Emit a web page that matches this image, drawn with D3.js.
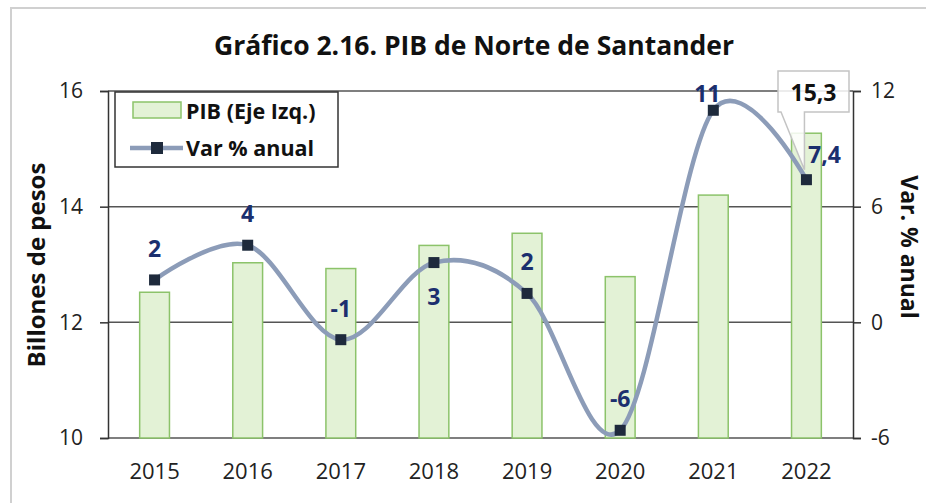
<!DOCTYPE html>
<html>
<head>
<meta charset="utf-8">
<script src="https://cdn.jsdelivr.net/npm/d3@7"></script>
<style>
  body { margin: 0; background: #fff; }
  svg { font-family: "Open Sans", sans-serif; }
</style>
</head>
<body>
<div id="chart"></div>
<script>
// datos
var years = ["2015", "2016", "2017", "2018", "2019", "2020", "2021", "2022"];
var pib = [12.52, 13.03, 12.93, 13.33, 13.54, 12.79, 14.2, 15.27];
var varAnual = [2.2, 4.0, -0.9, 3.1, 1.5, -5.6, 11.0, 7.4];
var varLabels = ["2", "4", "-1", "3", "2", "-6", "11", "7,4"];
var leftTicks = [10, 12, 14, 16];
var rightTicks = [-6, 0, 6, 12];

var width = 926, height = 503;
var m = { left: 108, right: 853, top: 91, bottom: 438 };

var svg = d3.select("#chart").append("svg")
    .attr("width", width).attr("height", height);

// marco exterior
svg.append("rect")
    .attr("x", 11).attr("y", 8)
    .attr("width", width).attr("height", height)
    .attr("fill", "none").attr("stroke", "#d0d0d0").attr("stroke-width", 2);

var x = d3.scaleBand().domain(years).range([m.left, m.right])
    .paddingInner(0.68).paddingOuter(0.34);
var yL = d3.scaleLinear().domain([10, 16]).range([m.bottom, m.top]);
var yR = d3.scaleLinear().domain([-6, 12]).range([m.bottom, m.top]);

// titulo
svg.append("text")
    .attr("x", 474).attr("y", 55)
    .attr("text-anchor", "middle")
    .attr("font-size", 26.5).attr("font-weight", "bold").attr("fill", "#111")
    .text("Gráfico 2.16. PIB de Norte de Santander");

// lineas de grilla
svg.append("g").selectAll("line")
  .data(leftTicks)
  .enter().append("line")
    .attr("x1", m.left).attr("x2", m.right)
    .attr("y1", d => yL(d)).attr("y2", d => yL(d))
    .attr("stroke", "#555").attr("stroke-width", 1.5);

// barras
svg.append("g").selectAll("rect")
  .data(years)
  .enter().append("rect")
    .attr("x", d => x(d))
    .attr("y", (d, i) => yL(pib[i]))
    .attr("width", x.bandwidth())
    .attr("height", (d, i) => yL(10) - yL(pib[i]))
    .attr("fill", "#e3f2d6").attr("stroke", "#8cc36a").attr("stroke-width", 1.5);

// ejes
var fmt = d => String(d);
var axL = svg.append("g").attr("transform", "translate(" + m.left + ",0)")
    .call(d3.axisLeft(yL).tickValues(leftTicks).tickFormat(fmt).tickSize(8).tickPadding(17));
var axR = svg.append("g").attr("transform", "translate(" + m.right + ",0)")
    .call(d3.axisRight(yR).tickValues(rightTicks).tickFormat(fmt).tickSize(8).tickPadding(10));
[axL, axR].forEach(function(a) {
  a.select(".domain").attr("stroke", "#333").attr("stroke-width", 1.5);
  a.selectAll(".tick line").attr("stroke", "#333").attr("stroke-width", 1.5);
  a.selectAll(".tick text").attr("font-size", 21).attr("fill", "#222")
    .attr("font-family", "'Open Sans', sans-serif");
});

// etiquetas del eje x
svg.append("g").selectAll("text")
  .data(years)
  .enter().append("text")
    .attr("x", d => x(d) + x.bandwidth() / 2)
    .attr("y", 479)
    .attr("text-anchor", "middle")
    .attr("font-size", 22).attr("fill", "#222")
    .text(d => d);

// titulos de ejes
svg.append("text")
    .attr("transform", "translate(45,265) rotate(-90)")
    .attr("text-anchor", "middle")
    .attr("font-size", 24).attr("font-weight", "bold").attr("fill", "#111")
    .text("Billones de pesos");
svg.append("text")
    .attr("transform", "translate(901,247) rotate(90)")
    .attr("text-anchor", "middle")
    .attr("font-size", 23).attr("font-weight", "bold").attr("fill", "#111")
    .text("Var. % anual");

// linea suavizada
var cx = (d, i) => x(years[i]) + x.bandwidth() / 2;
var line = d3.line()
    .x(cx)
    .y(d => yR(d))
    .curve(d3.curveCardinal.tension(0));

svg.append("path")
    .datum(varAnual)
    .attr("d", line)
    .attr("fill", "none").attr("stroke", "#8c9cb8").attr("stroke-width", 4.5);

svg.append("g").selectAll("rect")
  .data(varAnual)
  .enter().append("rect")
    .attr("x", (d, i) => cx(d, i) - 5.5)
    .attr("y", d => yR(d) - 5.5)
    .attr("width", 11).attr("height", 11)
    .attr("fill", "#1e2a3c");

// etiquetas de la variacion
var place = ["up", "up", "up", "down", "up", "up", "close", "right"];
svg.append("g").selectAll("text")
  .data(varAnual)
  .enter().append("text")
    .attr("x", function(d, i) {
      if (place[i] == "right") return cx(d, i) + 18;
      if (place[i] == "close") return cx(d, i) - 6;
      return cx(d, i);
    })
    .attr("y", function(d, i) {
      if (place[i] == "down") return yR(d) + 42;
      if (place[i] == "close") return yR(d) - 8;
      if (place[i] == "right") return yR(d) - 17;
      return yR(d) - 23;
    })
    .attr("text-anchor", "middle")
    .attr("font-size", 23).attr("font-weight", "bold").attr("fill", "#1b2f6e")
    .text((d, i) => varLabels[i]);

// recuadro del ultimo valor
var lastX = cx(0, 7);
var bx = 778, by = 71, bw = 71, bh = 41;
svg.append("path")
    .attr("d", "M" + bx + "," + by + " h" + bw + " v" + bh + " H" + (lastX - 2) +
      " L" + (lastX - 2) + "," + (yR(varAnual[7]) - 10) + " L" + (bx + 3) + "," + (by + bh) +
      " H" + bx + " Z")
    .attr("fill", "#fff").attr("fill-opacity", 0.85)
    .attr("stroke", "#c4c4c4").attr("stroke-width", 1.5);
svg.append("text")
    .attr("x", bx + bw / 2).attr("y", by + 30)
    .attr("text-anchor", "middle")
    .attr("font-size", 23).attr("font-weight", "bold").attr("fill", "#111")
    .text("15,3");

// leyenda
var lg = svg.append("g");
lg.append("rect")
    .attr("x", 115).attr("y", 92).attr("width", 223).attr("height", 75)
    .attr("fill", "#fff").attr("stroke", "#333").attr("stroke-width", 1.5);
lg.append("rect")
    .attr("x", 133).attr("y", 102).attr("width", 48).attr("height", 16)
    .attr("fill", "#e3f2d6").attr("stroke", "#8cc36a").attr("stroke-width", 1.5);
lg.append("text")
    .attr("x", 186).attr("y", 119)
    .attr("font-size", 21.5).attr("font-weight", "bold").attr("fill", "#111")
    .text("PIB (Eje Izq.)");
lg.append("line")
    .attr("x1", 130).attr("x2", 183).attr("y1", 148).attr("y2", 148)
    .attr("stroke", "#8c9cb8").attr("stroke-width", 4.5);
lg.append("rect")
    .attr("x", 151).attr("y", 142).attr("width", 12).attr("height", 12)
    .attr("fill", "#1e2a3c");
lg.append("text")
    .attr("x", 186).attr("y", 156)
    .attr("font-size", 21.5).attr("font-weight", "bold").attr("fill", "#111")
    .text("Var % anual");
</script>
</body>
</html>
